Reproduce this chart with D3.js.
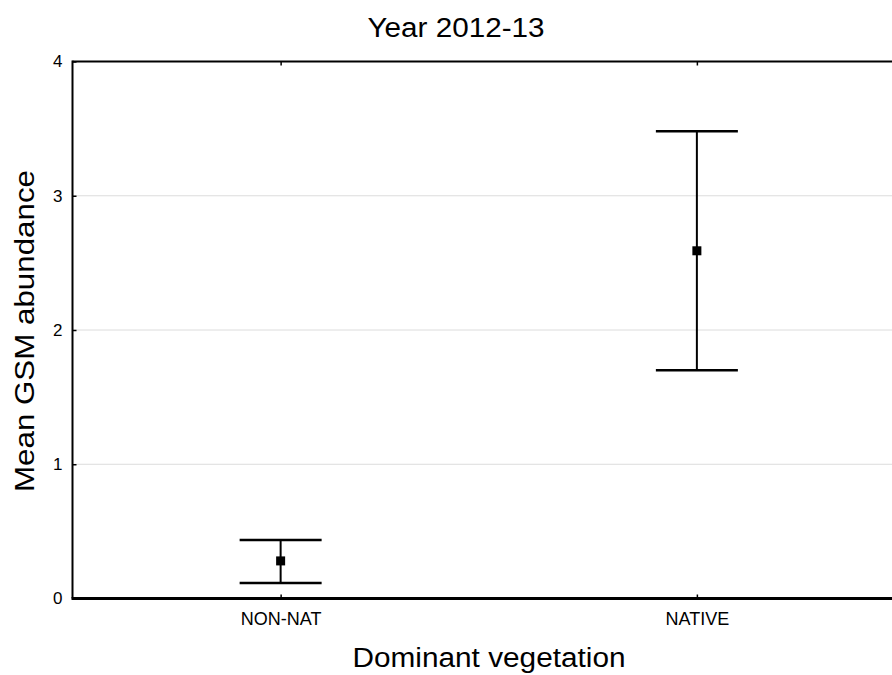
<!DOCTYPE html>
<html>
<head>
<meta charset="utf-8">
<script src="https://cdn.jsdelivr.net/npm/d3@7"></script>
<style>
  html, body { margin: 0; padding: 0; background: #fff; }
  svg { display: block; font-family: "Liberation Sans", Arial, sans-serif; }
</style>
</head>
<body>
<svg id="chart" width="892" height="675"></svg>
<script>
// ---- data ----
const categories = ["NON-NAT", "NATIVE"];
const means = [0.28, 2.59];
const upper = [0.435, 3.48];
const lower = [0.115, 1.70];
const yTicks = [0, 1, 2, 3, 4];
const title = "Year 2012-13";
const xTitle = "Dominant vegetation";
const yTitle = "Mean GSM abundance";

// ---- layout ----
const svg = d3.select("#chart");
const mLeft = 72.5, mRight = 905, mTop = 61.5, mBottom = 598.5;

const x = d3.scalePoint().domain(categories).range([mLeft, mRight]).padding(0.5);
const y = d3.scaleLinear().domain([0, 4]).range([mBottom, mTop]);

// gridlines
svg.append("g").selectAll("line")
  .data(yTicks.filter(d => d > 0 && d < 4))
  .join("line")
  .attr("x1", mLeft).attr("x2", mRight)
  .attr("y1", d => y(d)).attr("y2", d => y(d))
  .attr("stroke", "#dcdcdc").attr("stroke-width", 1);

// axes (inside ticks)
const yAxis = svg.append("g").attr("transform", `translate(${mLeft},0)`)
  .call(d3.axisLeft(y).tickValues(yTicks).tickFormat(d3.format("d")).tickSize(-4).tickPadding(10));
yAxis.select(".domain").remove();
yAxis.selectAll("line").attr("stroke", "#000").attr("stroke-width", 1.5);
yAxis.selectAll("text").attr("font-size", 17).attr("fill", "#000")
  .attr("font-family", "Liberation Sans, Arial, sans-serif");

const xAxis = svg.append("g").attr("transform", `translate(0,${mBottom})`)
  .call(d3.axisBottom(x).tickSize(-4).tickPadding(14));
xAxis.select(".domain").remove();
xAxis.selectAll("line").attr("stroke", "#000").attr("stroke-width", 1.5);
xAxis.selectAll("text").attr("font-size", 18).attr("fill", "#000")
  .attr("font-family", "Liberation Sans, Arial, sans-serif");

const xTop = svg.append("g").attr("transform", `translate(0,${mTop})`)
  .call(d3.axisTop(x).tickSize(-4).tickFormat(""));
xTop.select(".domain").remove();
xTop.selectAll("line").attr("stroke", "#000").attr("stroke-width", 1.5);

// frame
svg.append("line").attr("x1", mLeft).attr("x2", mRight).attr("y1", mTop).attr("y2", mTop)
  .attr("stroke", "#000").attr("stroke-width", 2);
svg.append("line").attr("x1", mLeft - 1).attr("x2", mRight).attr("y1", mBottom).attr("y2", mBottom)
  .attr("stroke", "#000").attr("stroke-width", 3);
svg.append("line").attr("x1", mLeft).attr("x2", mLeft).attr("y1", mTop - 1).attr("y2", mBottom)
  .attr("stroke", "#000").attr("stroke-width", 2);

// error bars
const capHalf = 41;
const eb = svg.append("g").selectAll("g").data(categories).join("g");
eb.append("line")
  .attr("x1", d => x(d)).attr("x2", d => x(d))
  .attr("y1", (d, i) => y(upper[i])).attr("y2", (d, i) => y(lower[i]))
  .attr("stroke", "#000").attr("stroke-width", 2);
eb.append("line")
  .attr("x1", d => x(d) - capHalf).attr("x2", d => x(d) + capHalf)
  .attr("y1", (d, i) => y(upper[i])).attr("y2", (d, i) => y(upper[i]))
  .attr("stroke", "#000").attr("stroke-width", 2.5);
eb.append("line")
  .attr("x1", d => x(d) - capHalf).attr("x2", d => x(d) + capHalf)
  .attr("y1", (d, i) => y(lower[i])).attr("y2", (d, i) => y(lower[i]))
  .attr("stroke", "#000").attr("stroke-width", 2.5);
eb.append("rect")
  .attr("x", d => x(d) - 4.5).attr("y", (d, i) => y(means[i]) - 4.5)
  .attr("width", 9).attr("height", 9).attr("fill", "#000");

// titles
svg.append("text").attr("x", 456).attr("y", 37).attr("text-anchor", "middle")
  .attr("font-size", 27).attr("fill", "#000")
  .attr("textLength", 177).attr("lengthAdjust", "spacingAndGlyphs").text(title);
svg.append("text").attr("x", 489).attr("y", 667).attr("text-anchor", "middle")
  .attr("font-size", 27).attr("fill", "#000")
  .attr("textLength", 273).attr("lengthAdjust", "spacingAndGlyphs").text(xTitle);
svg.append("text").attr("transform", "translate(34,331) rotate(-90)").attr("text-anchor", "middle")
  .attr("font-size", 28).attr("fill", "#000")
  .attr("textLength", 322).attr("lengthAdjust", "spacingAndGlyphs").text(yTitle);
</script>
</body>
</html>
